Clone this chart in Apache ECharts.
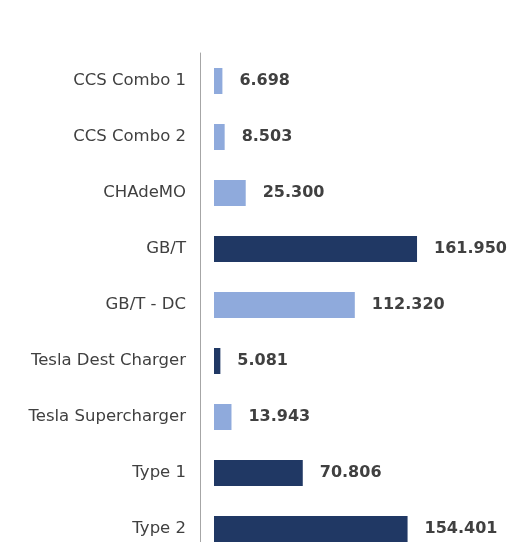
<!DOCTYPE html>
<html>
<head>
<meta charset="utf-8">
<script src="https://cdn.jsdelivr.net/npm/echarts@6/dist/echarts.min.js"></script>
<style>
  html, body { margin: 0; padding: 0; background: #fff; }
  #chart { width: 512px; height: 542px; }
</style>
</head>
<body>
<div id="chart"></div>
<script>
// connector types, top to bottom
const categories = ['CCS Combo 1', 'CCS Combo 2', 'CHAdeMO', 'GB/T', 'GB/T - DC',
  'Tesla Dest Charger', 'Tesla Supercharger', 'Type 1', 'Type 2'];
const values = [6.698, 8.503, 25.300, 161.950, 112.320, 5.081, 13.943, 70.806, 154.401];
// which bars are highlighted dark
const highlighted = [false, false, false, true, false, true, false, true, true];

const dark = '#203864';
const light = '#8FAADC';
const textColor = '#404040';

const chart = echarts.init(document.getElementById('chart'));
chart.setOption({
  animation: false,
  // grid runs past the bottom edge, the last bar is cut off
  grid: { left: 214, width: 298, top: 53, height: 504, outerBoundsMode: 'none' },
  xAxis: {
    type: 'value',
    min: 0,
    max: 237.7,
    show: false
  },
  yAxis: {
    type: 'category',
    data: categories,
    inverse: true,
    offset: 14,
    axisLine: { show: true, onZero: false, lineStyle: { color: '#a6a6a6', width: 1 } },
    axisTick: { show: false },
    axisLabel: {
      margin: 14,
      color: textColor,
      fontFamily: 'DejaVu Sans',
      fontSize: 16.5
    }
  },
  series: [{
    type: 'bar',
    barWidth: 26,
    data: values.map((v, i) => ({
      value: v,
      itemStyle: { color: highlighted[i] ? dark : light }
    })),
    label: {
      show: true,
      position: 'right',
      distance: 17,
      color: textColor,
      fontFamily: 'DejaVu Sans',
      fontWeight: 'bold',
      fontSize: 16,
      formatter: p => p.value.toFixed(3)
    }
  }]
});
</script>
</body>
</html>
